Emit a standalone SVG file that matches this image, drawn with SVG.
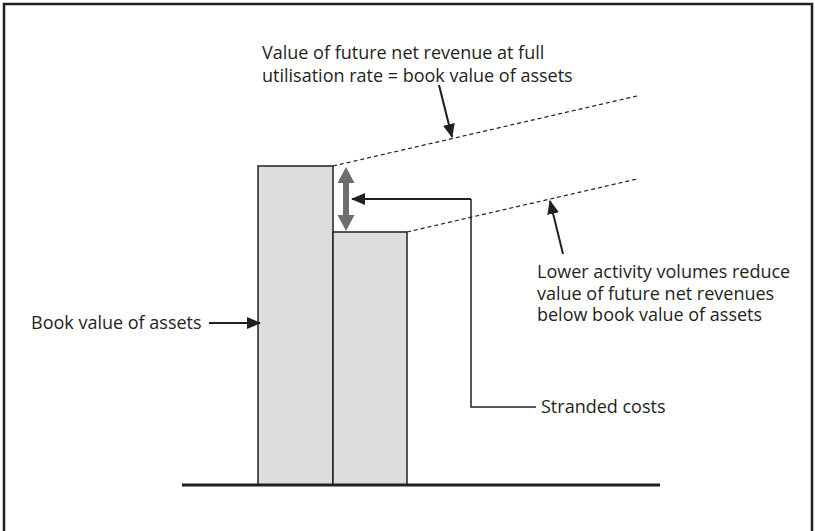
<svg xmlns="http://www.w3.org/2000/svg" width="815" height="531" viewBox="0 0 815 531">
  <style>
    .lbl { font-family: "Open Sans", "Noto Sans", "Liberation Sans", sans-serif; font-size: 18px; fill: #231f20; }
    .bar { fill: #dcdddf; stroke: #231f20; stroke-width: 1.5; }
    .dash { fill: none; stroke: #231f20; stroke-width: 1.2; stroke-dasharray: 4 3; }
    .pointer { fill: none; stroke: #231f20; stroke-width: 2; }
    .leader { fill: none; stroke: #231f20; stroke-width: 1.5; }
  </style>
  <defs>
    <marker id="head" viewBox="0 0 14 12" refX="13" refY="6" markerWidth="7" markerHeight="6" markerUnits="strokeWidth" orient="auto">
      <path d="M0,0 L14,6 L0,12 z" fill="#231f20"/>
    </marker>
  </defs>

  <!-- frame (open at the bottom edge) -->
  <rect x="4" y="4" width="808" height="540" fill="none" stroke="#231f20" stroke-width="2.5"/>

  <!-- bars -->
  <g id="bar-book">
    <rect class="bar" x="258" y="166" width="75" height="319"/>
  </g>
  <g id="bar-reduced">
    <rect class="bar" x="333" y="232" width="74" height="253"/>
  </g>

  <!-- axis -->
  <line x1="182" y1="485" x2="660" y2="485" stroke="#231f20" stroke-width="3"/>

  <!-- gap between the two values -->
  <g id="gap-arrow" fill="#6d6e70">
    <rect x="343" y="181" width="6" height="36"/>
    <path d="M346,167 L354.5,183 L337.5,183 z"/>
    <path d="M346,231 L354.5,215 L337.5,215 z"/>
  </g>

  <!-- labels -->
  <g id="label-full">
    <text class="lbl" x="262" y="59">Value of future net revenue at full</text>
    <text class="lbl" x="262" y="81.5">utilisation rate = book value of assets</text>
  </g>
  <g id="label-lower">
    <text class="lbl" x="537" y="278">Lower activity volumes reduce</text>
    <text class="lbl" x="537" y="299.5">value of future net revenues</text>
    <text class="lbl" x="537" y="321">below book value of assets</text>
  </g>
  <g id="label-book">
    <text class="lbl" x="31" y="329">Book value of assets</text>
  </g>
  <g id="label-stranded">
    <text class="lbl" x="541" y="413">Stranded costs</text>
  </g>

  <!-- connectors -->
  <g id="connectors">
    <line class="dash" x1="333" y1="166" x2="637" y2="96"/>
    <line class="dash" x1="407" y1="232" x2="637" y2="179"/>
    <line class="pointer" x1="439" y1="85" x2="452" y2="137" marker-end="url(#head)"/>
    <line class="pointer" x1="563" y1="254" x2="550" y2="201" marker-end="url(#head)"/>
    <line class="pointer" x1="209" y1="323" x2="260" y2="323" marker-end="url(#head)"/>
    <polyline class="leader" points="536,407 471,407 471,199"/>
    <line class="pointer" x1="471" y1="199" x2="352" y2="199" marker-end="url(#head)"/>
  </g>
</svg>
